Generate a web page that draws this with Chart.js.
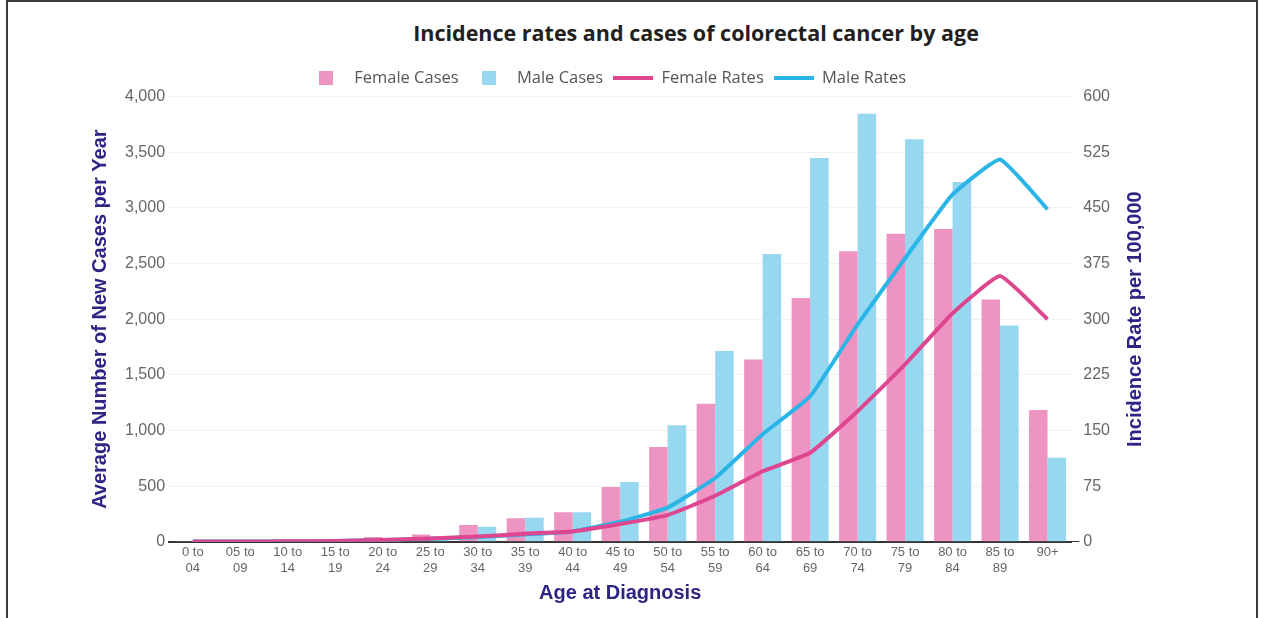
<!DOCTYPE html>
<html>
<head>
<meta charset="utf-8">
<script src="https://cdn.jsdelivr.net/npm/chart.js@4"></script>
<style>
  html, body { margin: 0; padding: 0; background: #fff; }
  body { width: 1264px; height: 618px; position: relative; overflow: hidden; }
  #frame { position: absolute; left: 6px; top: 0; width: 1252px; height: 700px;
           border: 2px solid #3a3a3a; border-bottom: none; box-sizing: border-box; }
  #title { position: absolute; left: 0; width: 1392px; top: 18px; text-align: center;
           font: bold 21.5px 'Open Sans', sans-serif; color: #231f20; }
  #wrap { position: absolute; left: 0; top: 0; width: 1192px; height: 618px; }
</style>
</head>
<body>
<div id="frame"></div>
<div id="title">Incidence rates and cases of colorectal cancer by age</div>
<div id="wrap"><canvas id="chart"></canvas></div>
<script>
const ageGroups = [
  ['0 to', '04'], ['05 to', '09'], ['10 to', '14'], ['15 to', '19'], ['20 to', '24'],
  ['25 to', '29'], ['30 to', '34'], ['35 to', '39'], ['40 to', '44'], ['45 to', '49'],
  ['50 to', '54'], ['55 to', '59'], ['60 to', '64'], ['65 to', '69'], ['70 to', '74'],
  ['75 to', '79'], ['80 to', '84'], ['85 to', '89'], '90+'
];

const femaleCases = [2, 3, 5, 12, 42, 65, 150, 212, 266, 493, 852, 1240, 1638, 2191, 2610, 2768, 2810, 2177, 1184];
const maleCases = [2, 3, 5, 10, 18, 28, 135, 215, 266, 538, 1047, 1713, 2586, 3447, 3845, 3617, 3232, 1943, 756];

const femaleRates = [0.3, 0.4, 0.6, 1.2, 2.5, 4.5, 7, 11, 14, 24, 36, 62, 95, 120, 176, 239, 308, 358, 300];
const maleRates = [0.3, 0.4, 0.6, 1.2, 2.3, 4, 6.5, 10, 14, 27, 46, 86, 145, 196, 293, 382, 468, 515, 448];

const casesTicks = [0, 500, 1000, 1500, 2000, 2500, 3000, 3500, 4000];
const rateTicks = [0, 75, 150, 225, 300, 375, 450, 525, 600];

const pink = '#ee94c3';
const blue = '#98d7f0';
const pinkLine = '#df4690';
const blueLine = '#2bb5e6';
const axisTitle = '#2d2483';
const sans = "'Liberation Sans', Arial, sans-serif";

// small canvases used as legend markers
function marker(w, h, color) {
  const c = document.createElement('canvas');
  c.width = w;
  c.height = h;
  const g = c.getContext('2d');
  g.fillStyle = color;
  g.fillRect(0, 0, w, h);
  return c;
}
const markers = [marker(14, 14, pink), marker(14, 14, blue), marker(40, 4, pinkLine), marker(40, 4, blueLine)];

const titleFont = { family: sans, size: 20, weight: 'bold' };

// Chart.js turns a right-hand title the other way; draw it bottom-to-top like the left one
const rightTitle = {
  id: 'rightTitle',
  afterDraw(chart) {
    const s = chart.scales.y1;
    const ctx = chart.ctx;
    ctx.save();
    ctx.translate(s.right - 5 - 12, (chart.chartArea.top + chart.chartArea.bottom) / 2);
    ctx.rotate(-Math.PI / 2);
    ctx.fillStyle = axisTitle;
    ctx.font = 'bold 20px ' + sans;
    ctx.textAlign = 'center';
    ctx.textBaseline = 'middle';
    ctx.fillText('Incidence Rate per 100,000', 0, 0);
    ctx.restore();
  },
};

const data = {
  labels: ageGroups,
  datasets: [
    {
      type: 'bar',
      label: 'Female Cases',
      data: femaleCases,
      backgroundColor: pink,
      yAxisID: 'y',
      order: 1,
      barPercentage: 1,
      categoryPercentage: 0.78,
    },
    {
      type: 'bar',
      label: 'Male Cases',
      data: maleCases,
      backgroundColor: blue,
      yAxisID: 'y',
      order: 1,
      barPercentage: 1,
      categoryPercentage: 0.78,
    },
    {
      type: 'line',
      label: 'Female Rates',
      data: femaleRates,
      borderColor: pinkLine,
      backgroundColor: pinkLine,
      borderWidth: 4,
      pointRadius: 0,
      tension: 0.12,
      yAxisID: 'y1',
      order: 0,
    },
    {
      type: 'line',
      label: 'Male Rates',
      data: maleRates,
      borderColor: blueLine,
      backgroundColor: blueLine,
      borderWidth: 4,
      pointRadius: 0,
      tension: 0.12,
      yAxisID: 'y1',
      order: 0,
    },
  ],
};

const config = {
  type: 'bar',
  data: data,
  options: {
    responsive: true,
    maintainAspectRatio: false,
    animation: false,
    layout: { padding: { top: 60, left: 60, right: 40, bottom: 10 } },
    plugins: {
      tooltip: { enabled: false },
      legend: {
        position: 'top',
        labels: {
          usePointStyle: true,
          pointStyleWidth: 40,
          padding: 10,
          color: '#555',
          font: { family: "'Open Sans', sans-serif", size: 16.5 },
          sort: (a, b) => a.datasetIndex - b.datasetIndex,
          generateLabels: (chart) =>
            Chart.defaults.plugins.legend.labels.generateLabels(chart).map((item) => {
              item.pointStyle = markers[item.datasetIndex];
              return item;
            }),
        },
      },
    },
    scales: {
      x: {
        grid: { display: false, drawTicks: false },
        border: { display: true, color: '#333', width: 2 },
        ticks: { color: '#666', font: { family: sans, size: 13 }, maxRotation: 0, autoSkip: false, padding: 3 },
        title: { display: true, text: 'Age at Diagnosis', color: axisTitle, font: titleFont, padding: { top: 2, bottom: 3 } },
      },
      y: {
        position: 'left',
        min: 0,
        max: 4000,
        afterBuildTicks: (axis) => { axis.ticks = casesTicks.map((v) => ({ value: v })); },
        grid: {
          color: (c) => (c.tick && c.tick.value === 0 ? 'rgba(0,0,0,0)' : '#f1f1f1'),
          drawTicks: false,
          lineWidth: 1,
        },
        border: { display: false },
        ticks: {
          color: '#666',
          font: { family: sans, size: 16 },
          padding: 4,
          callback: (v) => v.toLocaleString('en-US'),
        },
        title: { display: true, text: 'Average Number of New Cases per Year', color: axisTitle, font: titleFont, padding: { top: 28, bottom: 9 } },
      },
      y1: {
        position: 'right',
        min: 0,
        max: 600,
        afterBuildTicks: (axis) => { axis.ticks = rateTicks.map((v) => ({ value: v })); },
        grid: {
          drawOnChartArea: false,
          tickColor: (c) => (c.tick && c.tick.value === 0 ? '#333' : 'rgba(0,0,0,0)'),
          tickLength: 8,
        },
        border: { display: false },
        ticks: { color: '#666', font: { family: sans, size: 16 }, padding: 4 },
        // space is kept here, the text itself is drawn by the rightTitle plugin
        title: { display: true, text: 'Incidence Rate per 100,000', color: 'rgba(0,0,0,0)', font: titleFont, padding: { top: 5, bottom: 9 } },
      },
    },
  },
  plugins: [rightTitle],
};

new Chart(document.getElementById('chart'), config);
</script>
</body>
</html>
